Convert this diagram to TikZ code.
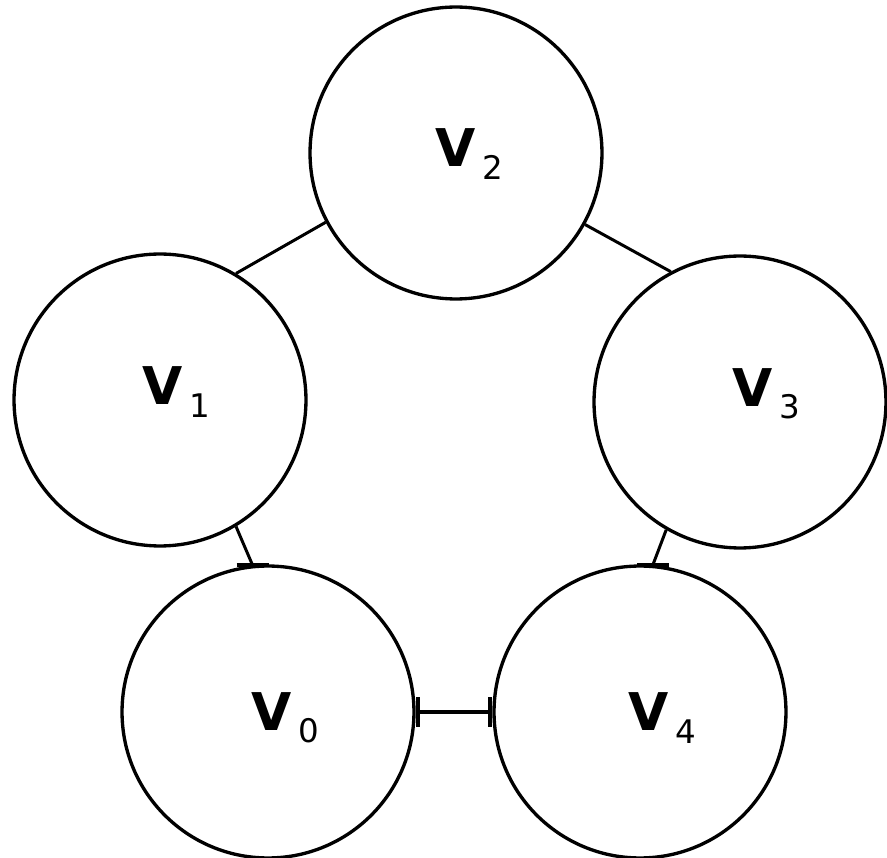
\documentclass[tikz,border=0pt]{standalone}
\usepackage{fontspec}
\setmainfont{DejaVu Sans}
\usetikzlibrary{arrows.meta,calc}

\newcommand{\vname}[1]{\bfseries V\kern4pt\raisebox{-7pt}{\mdseries\fontsize{18.5pt}{18pt}\selectfont #1}}

\begin{document}
\begin{tikzpicture}[x=0.02cm,y=-0.02cm,
  vertex/.style={draw,circle,line width=1.9pt,minimum size=5.84cm,inner sep=0pt},
  vlabel/.style={inner sep=0pt,font=\fontsize{29.6pt}{30pt}\selectfont},
  edge/.style={line width=1.7pt},
  tick/.style={line width=2.4pt}]
\useasboundingbox (0,0) rectangle (887,858);

\node[vertex] (v0) at (268,712) {};
\node[vertex] (v1) at (160,400) {};
\node[vertex] (v2) at (456,153) {};
\node[vertex] (v3) at (740,402) {};
\node[vertex] (v4) at (640,712) {};

\node[vlabel] (l0) at (285,718) {\vname{0}};
\node[vlabel] (l1) at (176,392) {\vname{1}};
\node[vlabel] (l2) at (469,154) {\vname{2}};
\node[vlabel] (l3) at (766,394) {\vname{3}};
\node[vlabel] (l4) at (662,718) {\vname{4}};

\draw[edge] (v1.59) -- (v2.208);
\draw[edge] (v2.331) -- (v3.118);
\draw[edge] (v1.301) -- (v0.96);
\draw[edge] (v3.240) -- (v4.85);
\draw[edge,line width=2.2pt,{Bar[width=0.6cm]}-{Bar[width=0.6cm]}] (v0.east) -- (v4.west);
\draw[tick] ($(v0.96)+(-16,0)$) -- ($(v0.96)+(16,0)$);
\draw[tick] ($(v4.85)+(-16,0)$) -- ($(v4.85)+(16,0)$);
\end{tikzpicture}
\end{document}
